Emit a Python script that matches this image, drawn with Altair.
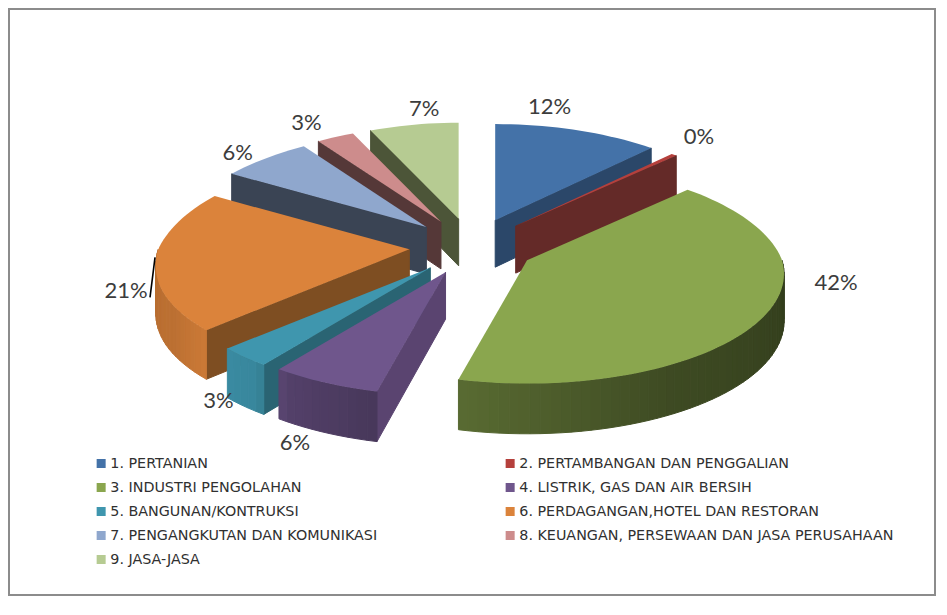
import numpy as np
import altair as alt

categories = ["1. PERTANIAN", "2. PERTAMBANGAN DAN PENGGALIAN", "3. INDUSTRI PENGOLAHAN",
              "4. LISTRIK, GAS DAN AIR BERSIH", "5. BANGUNAN/KONTRUKSI",
              "6. PERDAGANGAN,HOTEL DAN RESTORAN", "7. PENGANGKUTAN DAN KOMUNIKASI",
              "8. KEUANGAN, PERSEWAAN DAN JASA PERUSAHAAN", "9. JASA-JASA"]
shares = [12.0, 0.4, 41.4, 6.2, 3.0, 20.8, 6.6, 2.8, 6.8]
shown = ["12%", "0%", "42%", "6%", "3%", "21%", "6%", "3%", "7%"]
top_colors = ["#4472a8", "#b5403c", "#8aa64e", "#6f568c", "#3f96ae", "#db833b", "#8fa7cd", "#cd8c8c", "#b6cb92"]
cut_colors = ["#2b4769", "#642a28", "#55682c", "#5a4470", "#2a6473", "#7e4e22", "#3a4454", "#553838", "#4c5538"]
paint_order = [8, 7, 6, 0, 1, 5, 4, 3, 2]
label_dx = [-27, 25, 72, -30, -26, -30, -28, -29, 10]
label_dy = [-23, -18, -33, 60, 44, 31, -5, -14, -16]

# 3D pie geometry, in plot pixels
CX, CY, EX, EY = 464, 238.5, 63, 28.3
RX, RY, PERSP, DEPTH = 255, 108, 0.124, 47


def rim(theta):
    u, v = np.sin(theta), -np.cos(theta)
    w = 1 / (1 - PERSP * v)
    wx = w * (1 + (0.08 if u < 0 else 0.035) * min(v, 0))
    rx = RX * (1 - (0.015 if u < 0 else 0) * np.exp(-(v / 0.4) ** 2))
    return rx * u * wx, RY * v * w, DEPTH * np.sqrt(w)


def shade(hex_color, f):
    rgb = [int(hex_color[i:i + 2], 16) for i in (1, 3, 5)]
    return "#" + "".join(f"{int(c * f):02x}" for c in rgb)


def feature(points, name, color):
    ring = [[float(x), float(y)] for x, y in points]
    ring.append(ring[0])
    return {"type": "Feature", "geometry": {"type": "Polygon", "coordinates": [ring]},
            "properties": {"name": name, "color": color}}


SHADE_T = [90, 150, 190, 196, 214, 218, 227, 240, 270]
SHADE_F = [.36, .45, .63, .66, .76, .9, .93, .86, .84]

edges = np.cumsum([0] + shares) / sum(shares) * 2 * np.pi
walls, tops, apexes, mids = {}, {}, {}, {}
for i, name in enumerate(categories):
    t0, t1 = edges[i], edges[i + 1]
    tm = (t0 + t1) / 2
    ax = CX + EX * np.sin(tm)
    ay = CY - EY * np.cos(tm)
    apexes[i], mids[i] = (ax, ay), tm
    w = []
    for t, vis in ((t0, np.sin(t0) < 0), (t1, np.sin(t1) > 0)):
        if vis:
            x, y, d = rim(t)
            w.append(feature([(ax, ay), (ax + x, ay + y), (ax + x, ay + y + d), (ax, ay + DEPTH)], name, cut_colors[i]))
    lo, hi = max(t0, np.pi / 2), min(t1, 3 * np.pi / 2)
    if hi > lo:
        n = max(2, int(np.degrees(hi - lo) / 2))
        ts = np.linspace(lo, hi, n + 1)
        for a, b in zip(ts[:-1], ts[1:]):
            xa, ya, da = rim(a)
            xb, yb, db = rim(b)
            f = np.interp(np.degrees((a + b) / 2), SHADE_T, SHADE_F)
            w.append(feature([(ax + xa, ay + ya), (ax + xb, ay + yb), (ax + xb, ay + yb + db), (ax + xa, ay + ya + da)],
                             name, shade(top_colors[i], f)))
    walls[i] = w
    ts = np.linspace(t0, t1, max(3, int(np.degrees(t1 - t0) / 2) + 1))
    tops[i] = [feature([(ax, ay)] + [(ax + rim(t)[0], ay + rim(t)[1]) for t in ts], name, top_colors[i])]

PROJ = dict(type="identity", scale=1, translate=[0, 0])

legend = alt.Legend(orient="none", legendX=86, legendY=448, direction="horizontal", columns=2, title=None,
                    symbolType="square", symbolSize=81, symbolStrokeWidth=0, labelFont="DejaVu Sans",
                    labelFontSize=14.3, labelColor="#303030", labelLimit=600, columnPadding=125, rowPadding=9,
                    labelOffset=2, symbolOffset=0, clipHeight=15)

frame = alt.Chart(alt.Data(values=[{"a": 0}])).mark_rect(fill="white", stroke="#8c8c8c", strokeWidth=2).encode(
    x=alt.value(1), x2=alt.value(927), y=alt.value(1), y2=alt.value(587))

layers = [frame]
for i in paint_order:
    if walls[i]:
        layers.append(alt.Chart(alt.Data(values=walls[i])).mark_geoshape(strokeWidth=1).encode(
            fill=alt.Fill("properties.color:N", scale=None),
            stroke=alt.Stroke("properties.color:N", scale=None)).project(**PROJ))
    layers.append(alt.Chart(alt.Data(values=tops[i])).mark_geoshape(strokeWidth=0).encode(
        color=alt.Color("properties.name:N", scale=alt.Scale(domain=categories, range=top_colors),
                        sort=categories, legend=legend)).project(**PROJ))

rows = []
for i, t in enumerate(shown):
    x, y, _ = rim(mids[i])
    rows.append({"t": t, "x": float(apexes[i][0] + x + label_dx[i]), "y": float(apexes[i][1] + y + label_dy[i])})
labels = alt.Chart(alt.Data(values=rows)).mark_text(font="Lato", fontSize=22, color="#3c3c3c").encode(
    x=alt.X("x:Q", scale=None, axis=None), y=alt.Y("y:Q", scale=None, axis=None), text="t:N")

ox, oy, _ = rim(mids[5])
lead = alt.Chart(alt.Data(values=[{"x": float(apexes[5][0] + ox - 1), "y": float(apexes[5][1] + oy - 3),
                                   "x2": float(rows[5]["x"] + 24), "y2": float(rows[5]["y"] + 6)}])
                 ).mark_rule(color="black", strokeWidth=1.6).encode(
    x=alt.X("x:Q", scale=None, axis=None), y=alt.Y("y:Q", scale=None, axis=None), x2="x2:Q", y2="y2:Q")

chart = alt.layer(*layers, lead, labels).properties(
    width=931, height=595, padding=0, autosize=alt.AutoSizeParams(type="none"), background="white"
).configure_view(stroke=None)

chart.save("out.html", embed_options={"renderer": "svg", "actions": False})
